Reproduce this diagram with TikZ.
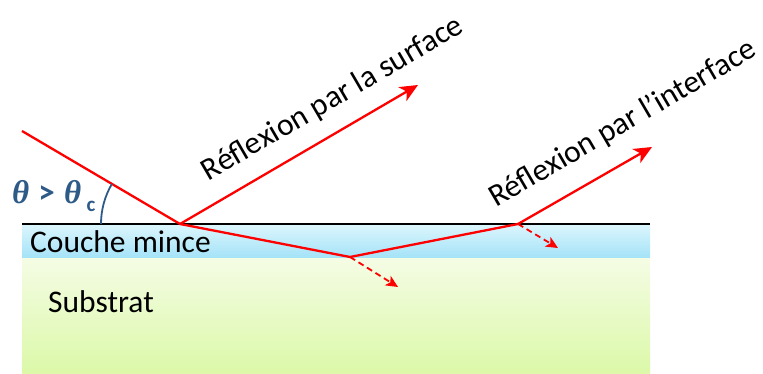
\documentclass[tikz,border=0pt]{standalone}
\usepackage{fontspec}
\setmainfont{Carlito}
\newfontfamily\thetafont{Liberation Serif}
\usetikzlibrary{arrows.meta}

\definecolor{RayColor}{HTML}{FF0000}
\definecolor{FilmTop}{HTML}{DDF6FD}
\definecolor{FilmBottom}{HTML}{A5E3F8}
\definecolor{SubTop}{HTML}{F5FCE5}
\definecolor{SubBottom}{HTML}{DBF9A8}
\definecolor{AngleColor}{HTML}{2E5A88}

\newcommand{\angtext}{{\thetafont\itshape θ}\;>\;{\thetafont\itshape θ}\,\raisebox{-0.45ex}{\fontsize{21}{24}\selectfont c}}

\tikzset{
  ray/.style={draw=RayColor,line width=2.3pt},
  rayarrow/.style={ray,-{Stealth[length=18pt,width=16pt,inset=5pt]}},
  leak/.style={draw=RayColor,line width=1.8pt,dash pattern=on 6pt off 4pt,-{Stealth[length=12pt,width=11pt,inset=3pt]}},
  lbl/.style={font=\fontsize{31.5}{36}\selectfont,inner sep=0pt},
  lblrot/.style={lbl,rotate=30.3}
}

\begin{document}
\begin{tikzpicture}[x=1pt,y=-1pt]
  % ===== Parámetros =====
  \def\xL{22}
  \def\xR{650}
  \def\ySurf{224}
  \def\yInter{257}
  \def\yBot{374}
  \useasboundingbox (0,0) rectangle (763,374);

  % ===== Couches =====
  \shade[top color=SubTop,bottom color=SubBottom] (\xL,\yInter) rectangle (\xR,\yBot);
  \shade[top color=FilmTop,bottom color=FilmBottom] (\xL,\ySurf) rectangle (\xR,\yInter);
  \draw[line width=1.5pt] (\xL,\ySurf) -- (\xR,\ySurf);

  \node[lbl,anchor=west] (film) at (30,242) {Couche mince};
  \node[lbl,anchor=west] (sub)  at (48,302) {Substrat};

  % ===== Points du trajet =====
  \coordinate (src)  at (22,131);
  \coordinate (hitS) at (180,\ySurf);
  \coordinate (outS) at (418,85);
  \coordinate (hitI) at (350,\yInter);
  \coordinate (hitT) at (518,\ySurf);
  \coordinate (outI) at (652,147);
  \coordinate (lkI)  at (398,287);
  \coordinate (lkT)  at (558,248);

  % ===== Rayons =====
  \draw[ray] (src) -- (hitS) -- (hitI) -- (hitT);
  \draw[rayarrow] (hitS) -- (outS);
  \draw[rayarrow] (hitT) -- (outI);
  \draw[leak] (hitI) -- (lkI);
  \draw[leak] (hitT) -- (lkT);

  % ===== Angle =====
  \draw[AngleColor,line width=1.8pt] (hitS) ++(180:79) arc[start angle=180,end angle=210.5,radius=79];
  \node[font=\fontsize{33}{38}\selectfont\bfseries,text=AngleColor,inner sep=0pt,anchor=west] (ang) at (12,196) {\angtext};

  % ===== Etiquettes =====
  \node[lblrot] (refS) at (333,99) {Réflexion par la surface};
  \node[lblrot] (refI) at (623,124) {Réflexion par l’interface};
\end{tikzpicture}
\end{document}
